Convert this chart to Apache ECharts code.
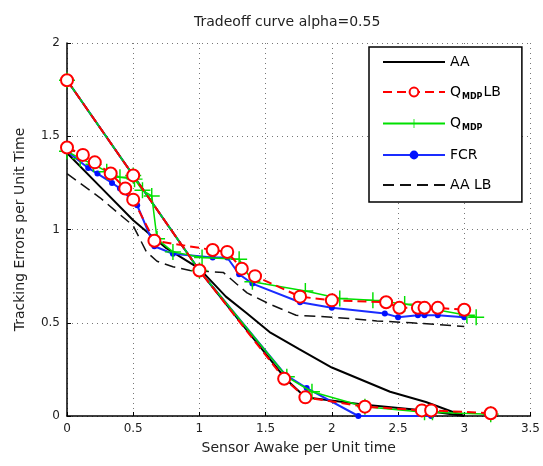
<!DOCTYPE html>
<html>
<head>
<meta charset="utf-8">
<script src="https://cdn.jsdelivr.net/npm/echarts@6/dist/echarts.min.js"></script>
<style>html,body{margin:0;padding:0;background:#fff}#c{width:543px;height:466px}</style>
</head>
<body>
<div id="c"></div>
<script>
const xTicks = [0, 0.5, 1, 1.5, 2, 2.5, 3, 3.5];
const yTicks = [0, 0.5, 1, 1.5, 2];
const seriesNames = ['AA', 'Q_MDP LB', 'Q_MDP', 'FCR', 'AA LB'];

const aaUpper = [[0,1.8],[1.0,0.78],[1.65,0.2],[1.8,0.1],[2.25,0.06],[2.7,0.03],[3.0,0.0]];
const aaLower = [[0,1.41],[0.25,1.23],[0.5,1.05],[0.75,0.9],[1.0,0.79],[1.2,0.64],[1.36,0.55],[1.53,0.45],[1.75,0.36],[2.0,0.26],[2.44,0.13],[2.71,0.075],[2.94,0.015],[3.0,0.0]];

const qLbUpper = [[0,1.8],[0.5,1.29],[1.0,0.78],[1.64,0.2],[1.8,0.1],[2.25,0.05],[2.68,0.03],[2.75,0.03],[3.2,0.015]];
const qLbLower = [[0,1.44],[0.12,1.4],[0.21,1.36],[0.33,1.3],[0.44,1.22],[0.5,1.16],[0.66,0.94],[1.1,0.89],[1.21,0.88],[1.32,0.79],[1.42,0.75],[1.76,0.64],[2.0,0.62],[2.41,0.61],[2.51,0.58],[2.65,0.58],[2.7,0.58],[2.8,0.58],[3.0,0.57]];

const qUpper = [[0,1.8],[0.5,1.29],[1.0,0.78],[1.66,0.21],[1.85,0.13],[2.25,0.05],[2.7,0.02],[2.76,0.02],[3.2,0.01]];
const qLower = [[0,1.42],[0.1,1.38],[0.2,1.35],[0.3,1.31],[0.4,1.28],[0.51,1.27],[0.57,1.21],[0.64,1.18],[0.68,0.95],[0.8,0.88],[1.02,0.85],[1.3,0.84],[1.4,0.72],[1.8,0.67],[2.06,0.63],[2.31,0.62],[2.55,0.6],[3.02,0.54],[3.09,0.53]];

const fcrUpper = [[0,1.8],[1.0,0.78],[1.65,0.22],[1.81,0.15],[2.2,0.0],[2.75,0.0]];
const fcrLower = [[0,1.42],[0.16,1.33],[0.23,1.3],[0.34,1.25],[0.4,1.22],[0.49,1.16],[0.53,1.13],[0.66,0.91],[0.8,0.87],[1.1,0.85],[1.21,0.85],[1.3,0.76],[1.4,0.71],[1.76,0.61],[2.0,0.58],[2.4,0.55],[2.5,0.53],[2.65,0.54],[2.7,0.54],[2.8,0.54],[3.0,0.53]];

const aaLb = [[0,1.3],[0.25,1.17],[0.5,1.02],[0.6,0.88],[0.68,0.83],[0.8,0.8],[0.93,0.78],[1.18,0.77],[1.36,0.66],[1.53,0.6],[1.73,0.54],[2.0,0.53],[2.34,0.51],[2.6,0.5],[3.0,0.48]];

const FONT = 'DejaVu Sans';
const plus = 'path://M-0.09,-1H0.09V-0.09H1V0.09H0.09V1H-0.09V0.09H-1V-0.09H-0.09Z';

function mk(name, data, style) {
  return Object.assign({
    name: name, type: 'line', data: data, animation: false,
    showSymbol: true, clip: false
  }, style);
}
const sAA = {z: 3, symbol: 'none', lineStyle: {color: '#000', width: 2}, itemStyle: {color: '#000'}};
const sQLB = {z: 6, symbol: 'emptyCircle', symbolSize: 12,
  lineStyle: {color: '#ff0000', width: 2, type: [9, 5]},
  itemStyle: {color: '#ff0000', borderColor: '#ff0000', borderWidth: 2}};
const sQ = {z: 5, symbol: plus, symbolSize: 16,
  lineStyle: {color: '#00e000', width: 1.5},
  itemStyle: {color: '#00e000'}};
const sFCR = {z: 4, symbol: 'circle', symbolSize: 6,
  lineStyle: {color: '#1a2cff', width: 2},
  itemStyle: {color: '#0010ff'}};
const sAALB = {z: 2, symbol: 'none',
  lineStyle: {color: '#111', width: 1.5, type: [11, 6]},
  itemStyle: {color: '#111'}};

const legendData = seriesNames.map(function (n) {
  if (n === 'AA' || n === 'AA LB') return {name: n, itemStyle: {opacity: 0}};
  return {name: n};
});

const chart = echarts.init(document.getElementById('c'), null, {renderer: 'canvas'});
chart.setOption({
  backgroundColor: '#fff',
  animation: false,
  title: {
    text: 'Tradeoff curve alpha=0.55',
    left: 189, top: 10,
    textStyle: {fontFamily: FONT, fontSize: 14, fontWeight: 'normal', color: '#222'}
  },
  grid: {left: 67, right: 12, top: 43, bottom: 50, containLabel: false},
  legend: {
    data: legendData,
    orient: 'vertical',
    left: 369, top: 47,
    padding: [8, 21, 10, 13],
    itemWidth: 62, itemHeight: 11, itemGap: 16,
    backgroundColor: '#fff',
    borderColor: '#000', borderWidth: 1.5,
    selectedMode: false,
    textStyle: {fontFamily: FONT, fontSize: 14, color: '#000',
      rich: {n: {fontFamily: FONT, fontSize: 14, color: '#000'},
             s: {fontFamily: FONT, fontSize: 8, fontWeight: 'bold', color: '#000', padding: [9, 1, 0, 1]}}},
    formatter: function (name) {
      if (name === 'Q_MDP LB') return '{n|Q}{s|MDP}{n|LB}';
      if (name === 'Q_MDP') return '{n|Q}{s|MDP}';
      return name;
    }
  },
  xAxis: {
    type: 'value', min: 0, max: 3.5, interval: 0.5,
    name: 'Sensor Awake per Unit time', nameLocation: 'middle', nameGap: 25,
    nameTextStyle: {fontFamily: FONT, fontSize: 14, color: '#222'},
    axisLine: {show: true, onZero: false, lineStyle: {color: '#000', width: 1.5}},
    axisTick: {show: true, inside: true, length: 4, lineStyle: {color: '#000'}},
    axisLabel: {fontFamily: FONT, fontSize: 12, color: '#222', margin: 7,
      formatter: function (v) { return xTicks.indexOf(v) >= 0 ? String(v) : ''; }},
    splitLine: {show: true, lineStyle: {color: '#777', width: 1, type: [1, 4]}}
  },
  yAxis: {
    type: 'value', min: 0, max: 2, interval: 0.5,
    name: 'Tracking Errors per Unit Time', nameLocation: 'middle', nameGap: 40,
    nameTextStyle: {fontFamily: FONT, fontSize: 14, color: '#222'},
    axisLine: {show: true, onZero: false, lineStyle: {color: '#000', width: 1.5}},
    axisTick: {show: true, inside: true, length: 4, lineStyle: {color: '#000'}},
    axisLabel: {fontFamily: FONT, fontSize: 12, color: '#222', margin: 7,
      formatter: function (v) { return yTicks.indexOf(v) >= 0 ? String(v) : ''; }},
    splitLine: {show: true, lineStyle: {color: '#777', width: 1, type: [1, 4]}}
  },
  series: [
    mk('AA LB', aaLb, sAALB),
    mk('AA', aaUpper, sAA),
    mk('AA', aaLower, sAA),
    mk('FCR', fcrUpper, sFCR),
    mk('FCR', fcrLower, sFCR),
    mk('Q_MDP', qUpper, sQ),
    mk('Q_MDP', qLower, sQ),
    mk('Q_MDP LB', qLbUpper, sQLB),
    mk('Q_MDP LB', qLbLower, sQLB)
  ]
});
</script>
</body>
</html>
